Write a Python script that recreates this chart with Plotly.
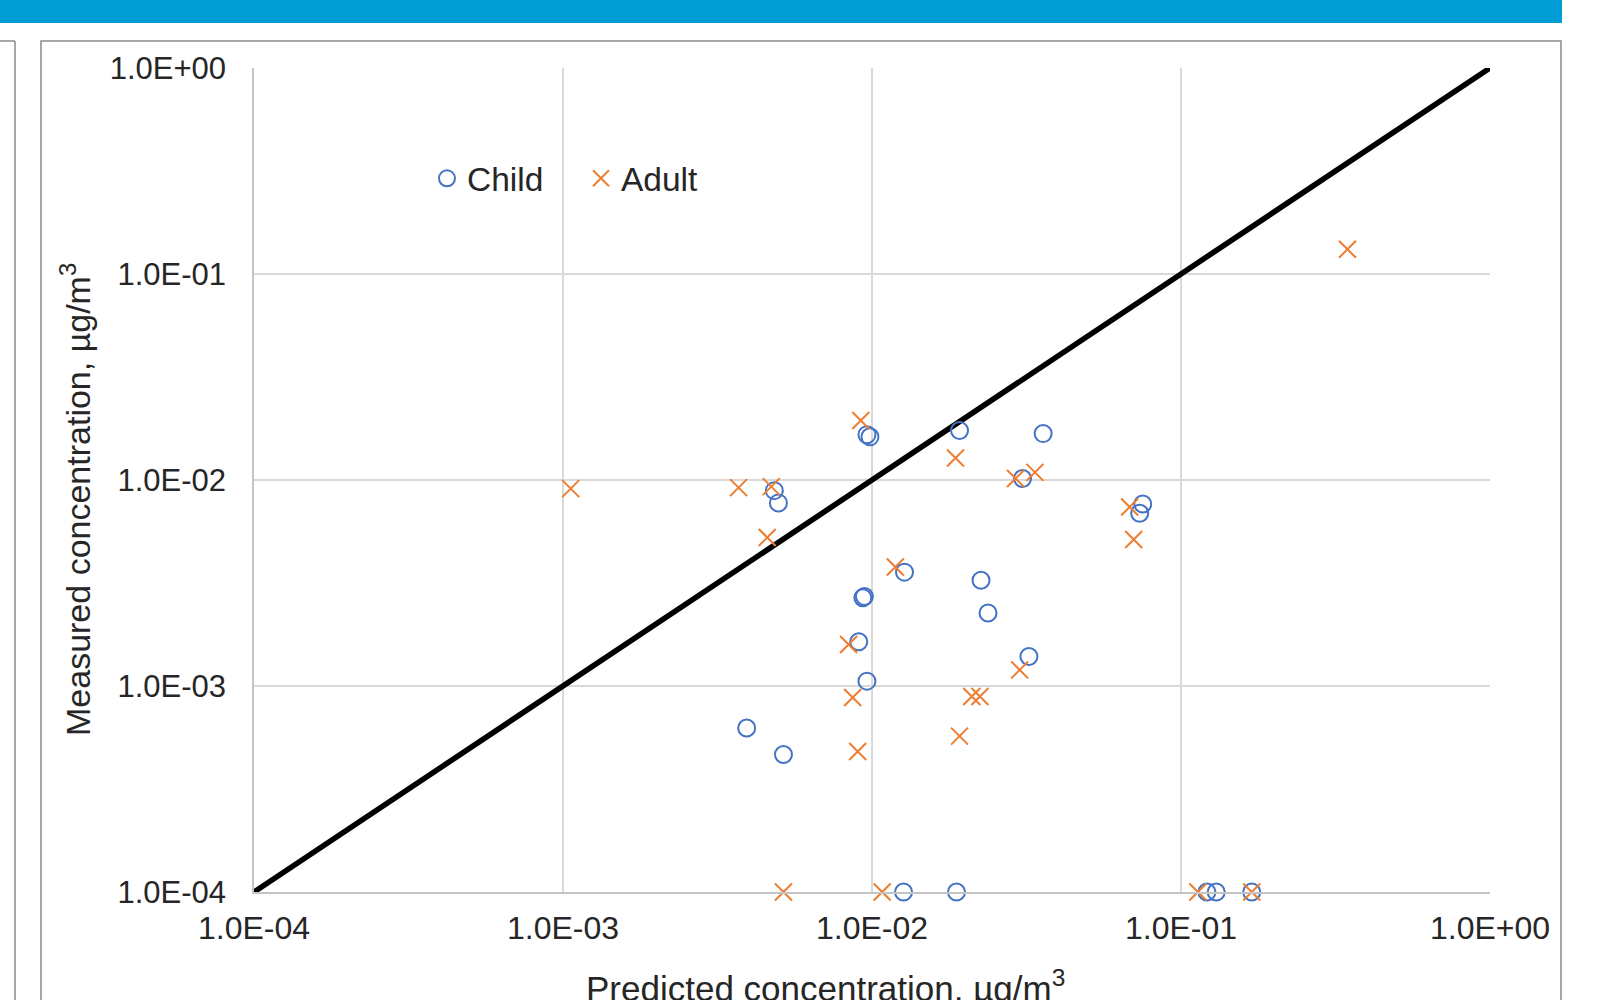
import plotly.graph_objects as go

# ---- data ----
child_pred = [0.00963, 0.00985, 0.0192, 0.0358, 0.0307, 0.00483, 0.00498, 0.0752, 0.0735,
              0.01274, 0.02253, 0.00934, 0.00945, 0.02374, 0.00906, 0.0322, 0.00963,
              0.00393, 0.00517, 0.01265, 0.01877, 0.1213, 0.130, 0.1694]
child_meas = [0.0166, 0.0162, 0.0174, 0.0168, 0.01017, 0.00888, 0.00774, 0.00765, 0.0069,
              0.00357, 0.00326, 0.00268, 0.00272, 0.00226, 0.00164, 0.00139, 0.001056,
              0.000625, 0.000465, 0.0001, 0.0001, 0.0001, 0.0001, 0.0001]

adult_pred = [0.3457, 0.0092, 0.01863, 0.03367, 0.02915, 0.001059, 0.0037, 0.00472, 0.0682,
              0.00458, 0.0703, 0.0119, 0.0084, 0.03005, 0.00866, 0.02104, 0.02235,
              0.00899, 0.0192, 0.00517, 0.01079, 0.1134, 0.1694]
adult_meas = [0.1318, 0.01946, 0.01278, 0.01089, 0.01017, 0.00908, 0.00918, 0.00929, 0.0074,
              0.00526, 0.00514, 0.00378, 0.00159, 0.001197, 0.00088, 0.00089, 0.00089,
              0.000481, 0.000571, 0.0001, 0.0001, 0.0001, 0.0001]

line_x = [1e-4, 1.0]
line_y = [1e-4, 1.0]

tick_vals = [1e-4, 1e-3, 1e-2, 1e-1, 1e0]
tick_text = ["1.0E-04", "1.0E-03", "1.0E-02", "1.0E-01", "1.0E+00"]

# ---- layout geometry (pixels) ----
W, H = 1597, 1000
L, R, T, B = 254, 1490, 68, 892
PW, PH = R - L, B - T


def px(xp):
    return (xp - L) / PW


def py(yp):
    return (B - yp) / PH


FONT = "Liberation Sans, Arial, sans-serif"
TXT = "#262626"

fig = go.Figure()

fig.add_trace(go.Scatter(
    x=line_x, y=line_y, mode="lines",
    line=dict(color="black", width=5.5),
    showlegend=False, hoverinfo="skip", cliponaxis=False,
))

fig.add_trace(go.Scatter(
    x=child_pred, y=child_meas, mode="markers", name="Child",
    marker=dict(symbol="circle-open", size=17, color="#4472C4",
                line=dict(width=2, color="#4472C4")),
    cliponaxis=False,
))

fig.add_trace(go.Scatter(
    x=adult_pred, y=adult_meas, mode="markers", name="Adult",
    marker=dict(symbol="x-thin-open", size=17, color="#ED7D31",
                line=dict(width=2, color="#ED7D31")),
    cliponaxis=False,
))

axis_common = dict(
    type="log", range=[-4, 0],
    tickvals=tick_vals, ticktext=tick_text,
    showgrid=True, gridcolor="#d9d9d9", gridwidth=1.5,
    zeroline=False, ticks="",
    showline=True, linecolor="#c4c4c4", linewidth=1.5,
    automargin=False,
)

fig.update_layout(
    width=W, height=H,
    margin=dict(l=L, r=W - R, t=T, b=H - B, autoexpand=False),
    paper_bgcolor="white", plot_bgcolor="white",
    font=dict(family=FONT, color=TXT),
    xaxis=dict(**axis_common, ticklabelstandoff=7,
               tickfont=dict(family=FONT, size=32, color=TXT)),
    yaxis=dict(**axis_common, ticklabelstandoff=20,
               tickfont=dict(family=FONT, size=31, color=TXT)),
    legend=dict(
        orientation="h", xref="paper", yref="paper",
        x=px(427), y=py(150), xanchor="left", yanchor="top",
        font=dict(family=FONT, size=33.5, color=TXT),
        bgcolor="rgba(0,0,0,0)", entrywidth=109, entrywidthmode="pixels",
    ),
    showlegend=True,
)

# axis titles
fig.add_annotation(
    text="Predicted concentration, µg/m<sup>3</sup>",
    xref="paper", yref="paper", x=px(825), y=py(986),
    xanchor="center", yanchor="middle", showarrow=False,
    font=dict(family=FONT, size=35, color=TXT),
)
fig.add_annotation(
    text="Measured concentration, µg/m<sup>3</sup>",
    xref="paper", yref="paper", x=px(75), y=py(500),
    xanchor="center", yanchor="middle", showarrow=False, textangle=-90,
    font=dict(family=FONT, size=34, color=TXT),
)

# decorative page elements: blue band and panel frames
fig.add_shape(type="rect", xref="paper", yref="paper",
              x0=px(0), x1=px(1562), y0=py(0), y1=py(23),
              fillcolor="#009CD4", line=dict(width=0), layer="below")
fig.add_shape(type="rect", xref="paper", yref="paper",
              x0=px(41), x1=px(1561), y0=py(41), y1=py(1010),
              fillcolor="rgba(0,0,0,0)", line=dict(color="#8a8a8a", width=1.5), layer="below")
fig.add_shape(type="line", xref="paper", yref="paper",
              x0=px(15), x1=px(15), y0=py(41), y1=py(1010),
              line=dict(color="#8a8a8a", width=1.5))
fig.add_shape(type="line", xref="paper", yref="paper",
              x0=px(-5), x1=px(15), y0=py(41), y1=py(41),
              line=dict(color="#8a8a8a", width=1.5))

fig.write_html(
    "out.html",
    config={"displayModeBar": False, "displaylogo": False},
    post_script="document.body.style.margin='0';document.body.style.overflow='hidden';",
)
